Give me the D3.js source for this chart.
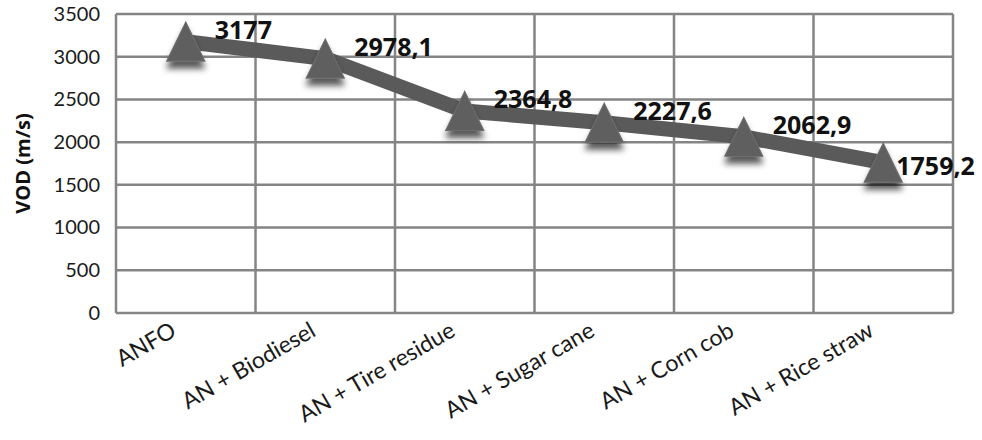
<!DOCTYPE html>
<html>
<head>
<meta charset="utf-8">
<script src="https://cdn.jsdelivr.net/npm/d3@7"></script>
<style>
  body { margin: 0; background: #fff; }
  svg { display: block; }
  .tick text { font-family: Lato, "Open Sans", sans-serif; fill: #1a1a1a; }
</style>
</head>
<body>
<div id="chart"></div>
<script>
var categories = ["ANFO", "AN + Biodiesel", "AN + Tire residue", "AN + Sugar cane", "AN + Corn cob", "AN + Rice straw"];
var vodValues = [3177, 2978.1, 2364.8, 2227.6, 2062.9, 1759.2];
var valueLabels = ["3177", "2978,1", "2364,8", "2227,6", "2062,9", "1759,2"];
var yTicks = [0, 500, 1000, 1500, 2000, 2500, 3000, 3500];

var width = 982, height = 440;
var margin = {top: 14, right: 29, bottom: 127, left: 116};
var innerW = width - margin.left - margin.right,
    innerH = height - margin.top - margin.bottom;

var svg = d3.select("#chart").append("svg")
    .attr("width", width).attr("height", height);

var defs = svg.append("defs");
var f = defs.append("filter").attr("id", "shadow")
    .attr("x", "-50%").attr("y", "-50%").attr("width", "200%").attr("height", "200%");
f.append("feDropShadow").attr("dx", 0).attr("dy", 7)
    .attr("stdDeviation", 3).attr("flood-color", "#000").attr("flood-opacity", 0.65);

var g = svg.append("g").attr("transform", "translate(" + margin.left + "," + margin.top + ")");

var x = d3.scaleBand().domain(categories).range([0, innerW]);
var y = d3.scaleLinear().domain([0, 3500]).range([innerH, 0]);

// horizontal grid
g.append("g").selectAll("line").data(yTicks).enter().append("line")
    .attr("x1", 0).attr("x2", innerW)
    .attr("y1", function(d) { return y(d); }).attr("y2", function(d) { return y(d); })
    .attr("stroke", "#858585").attr("stroke-width", 2.5);

// vertical grid at band edges
var edges = categories.map(function(c) { return x(c); }).concat([innerW]);
g.append("g").selectAll("line").data(edges).enter().append("line")
    .attr("x1", function(d) { return d; }).attr("x2", function(d) { return d; })
    .attr("y1", 0).attr("y2", innerH)
    .attr("stroke", "#858585").attr("stroke-width", 2.5);

// y axis labels
var yAxis = g.append("g")
    .call(d3.axisLeft(y).tickValues(yTicks).tickFormat(d3.format("d")).tickSize(0).tickPadding(16));
yAxis.select(".domain").remove();
yAxis.selectAll("text").style("font-size", "20px");

// x axis labels
var xAxis = g.append("g").attr("transform", "translate(0," + innerH + ")")
    .call(d3.axisBottom(x).tickSize(0).tickPadding(0));
xAxis.select(".domain").remove();
xAxis.selectAll("text")
    .style("font-size", "23px")
    .attr("text-anchor", "end")
    .attr("dy", 0)
    .attr("transform", "translate(-8,22) rotate(-30)");

// y title
svg.append("text")
    .attr("transform", "translate(30," + (margin.top + innerH / 2) + ") rotate(-90)")
    .attr("text-anchor", "middle")
    .style("font-family", "'Open Sans', sans-serif")
    .style("font-weight", "bold")
    .style("font-size", "20px")
    .style("fill", "#111")
    .text("VOD (m/s)");

var cx = function(i) { return x(categories[i]) + x.bandwidth() / 2; };

// line
var line = d3.line()
    .x(function(d, i) { return cx(i); })
    .y(function(d) { return y(d); });
g.append("path").datum(vodValues)
    .attr("d", line)
    .attr("fill", "none")
    .attr("stroke", "#5a5a5a")
    .attr("stroke-width", 15)
    .attr("stroke-linejoin", "round");

// triangle markers (box centred on the point)
var triangle = {
  draw: function(context, size) {
    var w = 38, h = 39;
    context.moveTo(0, -h / 2);
    context.lineTo(w / 2, h / 2);
    context.lineTo(-w / 2, h / 2);
    context.closePath();
  }
};
g.append("g").selectAll("path").data(vodValues).enter().append("path")
    .attr("d", d3.symbol().type(triangle))
    .attr("transform", function(d, i) { return "translate(" + cx(i) + "," + y(d) + ")"; })
    .attr("fill", "#5e5e5e")
    .attr("stroke", "#6c6c6c")
    .attr("stroke-width", 1.2)
    .attr("filter", "url(#shadow)");

// value labels
var last = vodValues.length - 1;
g.append("g").selectAll("text").data(vodValues).enter().append("text")
    .attr("x", function(d, i) { return i === last ? cx(i) + 13 : cx(i) + 29; })
    .attr("y", function(d, i) { return i === last ? y(d) + 12 : y(d) - 3; })
    .style("font-family", "'Open Sans', sans-serif")
    .style("font-weight", "bold")
    .style("font-size", "25px")
    .style("fill", "#111")
    .text(function(d, i) { return valueLabels[i]; });
</script>
</body>
</html>
